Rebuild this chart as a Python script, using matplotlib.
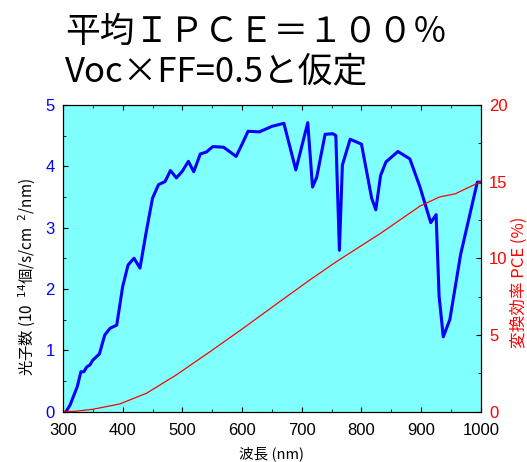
import matplotlib.pyplot as plt
from matplotlib.ticker import MultipleLocator

plt.rcParams['font.family'] = ['Noto Sans CJK JP', 'DejaVu Sans']

# photon flux (10^14 /s/cm2/nm)
wl_photon = [305, 312, 324, 330, 335, 340, 345, 350, 361, 370, 379, 390, 400, 409, 419, 429,
             440, 450, 460, 471, 480, 490, 500, 510, 519, 530, 540, 551, 569, 590, 601, 610,
             629, 650, 670, 690, 710, 718, 725, 739, 752, 757, 763, 768, 781, 800, 817, 824,
             832, 841, 861, 881, 898, 916, 925, 930, 937, 948, 966, 994, 1000]
photons = [0.0, 0.11, 0.41, 0.65, 0.65, 0.73, 0.76, 0.84, 0.94, 1.25, 1.36, 1.41, 2.04, 2.39, 2.50, 2.34,
           2.96, 3.48, 3.70, 3.75, 3.93, 3.81, 3.92, 4.08, 3.91, 4.20, 4.23, 4.32, 4.31, 4.16, 4.38, 4.57,
           4.56, 4.65, 4.70, 3.94, 4.71, 3.66, 3.82, 4.52, 4.53, 4.50, 2.63, 4.02, 4.44, 4.36, 3.48, 3.29,
           3.85, 4.07, 4.24, 4.12, 3.66, 3.08, 3.21, 1.88, 1.22, 1.50, 2.56, 3.74, 3.74]

# cumulative PCE (%)
wl_pce = [300, 320, 351, 395, 440, 490, 546, 602, 663, 714, 758, 831, 898, 931, 957, 1000]
pce = [0.0, 0.02, 0.16, 0.5, 1.2, 2.4, 3.9, 5.44, 7.17, 8.6, 9.78, 11.6, 13.4, 14.0, 14.2, 15.0]

tick_font = 'Liberation Sans'

fig = plt.figure(figsize=(5.27, 4.62), dpi=100)
ax = fig.add_axes([0.1195, 0.109, 0.793, 0.664])
ax.set_facecolor('#80ffff')

ax.plot(wl_photon, photons, color='#0000ff', lw=2.2, zorder=3)
ax.set_xlim(300, 1000)
ax.set_ylim(0, 5)
ax.xaxis.set_major_locator(MultipleLocator(100))
ax.xaxis.set_minor_locator(MultipleLocator(50))
ax.yaxis.set_major_locator(MultipleLocator(1))
ax.yaxis.set_minor_locator(MultipleLocator(0.5))
ax.tick_params(axis='both', which='both', direction='in', top=True, labelsize=12)
ax.tick_params(axis='x', pad=8)
ax.tick_params(axis='y', labelcolor='#0000ff', pad=6)
for lab in ax.get_xticklabels() + ax.get_yticklabels():
    lab.set_family(tick_font)
ax.set_xlabel('波長 (nm)', fontsize=10.5, labelpad=6)
ax.set_ylabel('光子数 (10  $^{14}$個/s/cm  $^{2}$/nm)', fontsize=11)
ax.yaxis.set_label_coords(-0.06, 0.44)

ax2 = ax.twinx()
ax2.plot(wl_pce, pce, color='#ff0000', lw=0.9, zorder=2)
ax2.set_ylim(0, 20)
ax2.yaxis.set_major_locator(MultipleLocator(5))
ax2.yaxis.set_minor_locator(MultipleLocator(2.5))
ax2.tick_params(axis='y', which='both', direction='in', labelsize=12, labelcolor='#ff0000', pad=6)
for lab in ax2.get_yticklabels():
    lab.set_family(tick_font)
ax2.set_ylabel('変換効率 PCE (%)', color='#ff0000', fontsize=12)
ax2.yaxis.set_label_coords(1.07, 0.42)

fig.text(0.123, 0.93, '平均ＩＰＣＥ＝１００％', fontsize=25, va='center', ha='left')
fig.text(0.123, 0.845, 'Voc×FF=0.5と仮定', fontsize=25, va='center', ha='left')

fig.savefig('out.png', dpi=100)
